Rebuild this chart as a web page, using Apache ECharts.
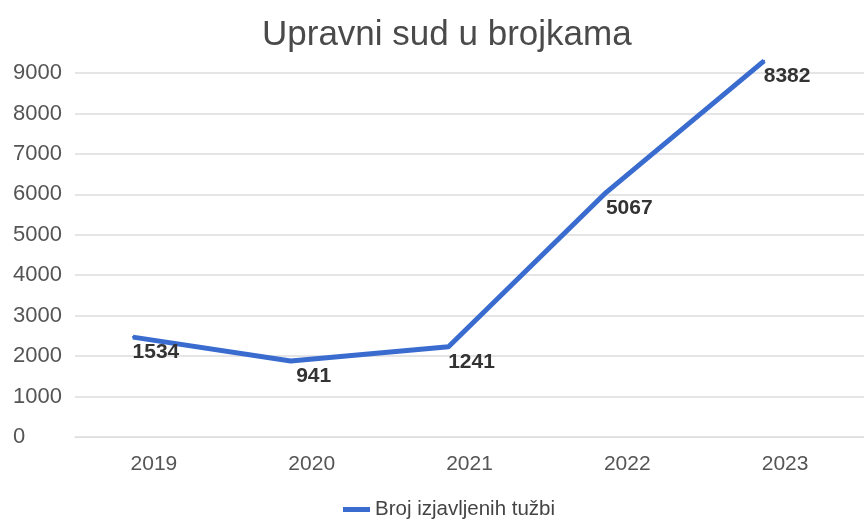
<!DOCTYPE html>
<html>
<head>
<meta charset="utf-8">
<script src="https://cdn.jsdelivr.net/npm/echarts@6/dist/echarts.min.js"></script>
<style>
    html, body { margin: 0; padding: 0; background: #fff; }
    #main { width: 864px; height: 526px; }
</style>
</head>
<body>
<div id="main"></div>
<script type="text/javascript">
    // data
    var years = ['2019', '2020', '2021', '2022', '2023'];
    var lineValues = [2470, 1880, 2230, 6050, 9300];   // where the line is drawn
    var labelValues = ['1534', '941', '1241', '5067', '8382'];  // numbers printed on it
    var yTicks = [0, 1000, 2000, 3000, 4000, 5000, 6000, 7000, 8000, 9000];

    var font = '"Liberation Sans", Arial, sans-serif';
    var blue = '#3a6ccf';
    var myChart = echarts.init(document.getElementById('main'));

    var option = {
        backgroundColor: '#fff',
        animation: false,
        title: {
            text: 'Upravni sud u brojkama',
            left: 257,
            top: 13,
            textStyle: { fontFamily: font, fontSize: 35, fontWeight: 'normal', color: '#4a4a4a' }
        },
        legend: {
            bottom: 1,
            left: 338,
            icon: 'rect',
            itemWidth: 27,
            itemHeight: 5,
            itemGap: 4,
            itemStyle: { color: blue, opacity: 1 },
            textStyle: { fontFamily: font, fontSize: 20.5, color: '#444' },
            data: ['Broj izjavljenih tužbi']
        },
        grid: [
            { left: 75, right: 0, top: 73, bottom: 89 },
            // the line sits a little left of the category centres in the original
            { left: 54, right: 21, top: 73, bottom: 89 }
        ],
        xAxis: [
            {
                type: 'category',
                gridIndex: 0,
                data: years,
                axisLine: { lineStyle: { color: '#ddd' } },
                axisTick: { show: false },
                axisLabel: { fontFamily: font, fontSize: 21, color: '#555', margin: 17 }
            },
            {
                type: 'category',
                gridIndex: 1,
                data: years,
                show: false
            }
        ],
        yAxis: [
            {
                type: 'value',
                gridIndex: 0,
                min: yTicks[0],
                max: yTicks[yTicks.length - 1],
                interval: 1000,
                axisLine: { show: false },
                axisTick: { show: false },
                splitLine: { lineStyle: { color: '#ddd', width: 1.5 } },
                axisLabel: {
                    fontFamily: font, fontSize: 22, color: '#555', align: 'left', margin: 62,
                    formatter: function (v) { return String(v); }
                }
            },
            {
                type: 'value',
                gridIndex: 1,
                min: yTicks[0],
                max: yTicks[yTicks.length - 1],
                show: false,
                splitLine: { show: false }
            }
        ],
        series: [
            {
                name: 'Broj izjavljenih tužbi',
                type: 'line',
                xAxisIndex: 1,
                yAxisIndex: 1,
                data: lineValues,
                clip: false,
                symbol: 'circle',
                symbolSize: 2,
                showSymbol: true,
                lineStyle: { color: blue, width: 5 },
                itemStyle: { color: blue },
                label: {
                    show: true,
                    position: 'bottom',
                    distance: 4,
                    offset: [23, 0],
                    fontFamily: font,
                    fontSize: 21,
                    fontWeight: 'bold',
                    color: '#333',
                    formatter: function (p) { return labelValues[p.dataIndex]; }
                }
            }
        ]
    };
    myChart.setOption(option);
</script>
</body>
</html>
